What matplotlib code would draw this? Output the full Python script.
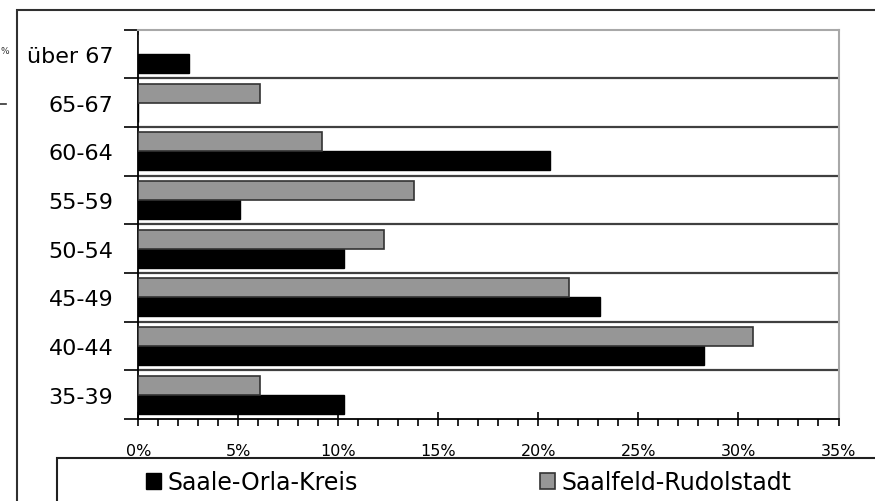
import matplotlib
matplotlib.use("Agg")
from matplotlib import pyplot as plt
from matplotlib.patches import Rectangle
from matplotlib.lines import Line2D
import numpy as np

# age groups, bottom to top
groups = ["35-39", "40-44", "45-49", "50-54", "55-59", "60-64", "65-67", "über 67"]
saale_orla = [10.3, 28.3, 23.1, 10.3, 5.1, 20.6, 0.0, 2.55]
saalfeld_rud = [6.1, 30.75, 21.55, 12.3, 13.8, 9.2, 6.1, 0.0]
x_ticks = [0, 5, 10, 15, 20, 25, 30, 35]

plt.rcParams['font.family'] = ['DejaVu Sans']

W, H = 875, 502
fig = plt.figure(figsize=(W / 100, H / 100), dpi=100)
ax = fig.add_axes([138.3 / W, 1 - 420 / H, 700.2 / W, 389.3 / H])

y = np.arange(len(groups))
h = 0.39
bar_b = ax.barh(y - h / 2, saale_orla, height=h, color="black", edgecolor="black", linewidth=1, zorder=3)
bar_g = ax.barh(y + h / 2, saalfeld_rud, height=h, color="#969696", edgecolor="#333333", linewidth=1.2, zorder=3)

# category separators
for b in np.arange(0.5, len(groups) - 0.5, 1):
    ax.axhline(b, color="#404040", linewidth=1.6, zorder=2)

ax.set_xlim(0, 35)
ax.set_ylim(-0.5, len(groups) - 0.5)

ax.set_xticks(x_ticks)
ax.set_xticklabels([f"{t}%" for t in x_ticks], fontsize=11.5)
ax.set_xticks(np.arange(0, 36, 1), minor=True)
ax.tick_params(axis="x", which="major", direction="inout", length=10, width=1.2, pad=12)
ax.tick_params(axis="x", which="minor", direction="out", length=5, width=1.2)

ax.set_yticks(y)
ax.set_yticklabels(groups, fontsize=16)
ax.set_yticks(np.arange(-0.5, len(groups), 1), minor=True)
ax.tick_params(axis="y", which="major", length=0, pad=18)
ax.tick_params(axis="y", which="minor", direction="out", length=10, width=1.2)

ax.spines["left"].set_color("black")
ax.spines["left"].set_linewidth(1.3)
ax.spines["bottom"].set_color("black")
ax.spines["bottom"].set_linewidth(1.3)
ax.spines["top"].set_color("#a8a8a8")
ax.spines["top"].set_linewidth(1.5)
ax.spines["right"].set_color("#a8a8a8")
ax.spines["right"].set_linewidth(1.5)

# outer chart frame and legend box (run off the picture edge)
fig.patches.append(Rectangle((16.5 / W, -0.1), 1.2, 1 - 10.5 / H + 0.1, transform=fig.transFigure,
                             fill=False, edgecolor="#303030", linewidth=1.5))
fig.patches.append(Rectangle((57 / W, -0.1), 1.2, (H - 459) / H + 0.1, transform=fig.transFigure,
                             fill=False, edgecolor="#202020", linewidth=1.5))

fig.legend([bar_b, bar_g], ["Saale-Orla-Kreis", "Saalfeld-Rudolstadt"],
           loc="center left", bbox_to_anchor=(146 / W, (H - 483) / H), bbox_transform=fig.transFigure,
           ncol=2, frameon=False, fontsize=17, borderpad=0, borderaxespad=0,
           handlelength=0.65, handleheight=0.65, handletextpad=0.26, columnspacing=7.7)

# bits of a neighbouring element at the left edge
fig.text(0.5 / W, 1 - 52 / H, "%", ha="left", va="center", fontsize=6.5, color="#333333")
fig.lines.append(Line2D([0, 6 / W], [1 - 105 / H, 1 - 105 / H], transform=fig.transFigure,
                        color="#333333", linewidth=1.2))

fig.savefig("out.png", dpi=100)
